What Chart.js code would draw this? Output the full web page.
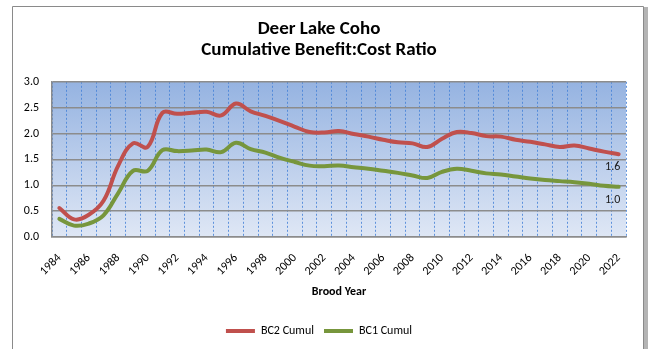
<!DOCTYPE html>
<html>
<head>
<meta charset="utf-8">
<title>Deer Lake Coho</title>
<script src="https://cdn.jsdelivr.net/npm/chart.js@4.4.1/dist/chart.umd.min.js"></script>
<style>
  html, body { margin: 0; padding: 0; background: #ffffff; }
  #chart-container { position: relative; width: 648px; height: 349px; }
</style>
</head>
<body>
<div id="chart-container">
  <canvas id="bc-chart" width="648" height="349"></canvas>
</div>
<script>
const years = [1984, 1985, 1986, 1987, 1988, 1989, 1990, 1991, 1992, 1993,
  1994, 1995, 1996, 1997, 1998, 1999, 2000, 2001, 2002, 2003,
  2004, 2005, 2006, 2007, 2008, 2009, 2010, 2011, 2012, 2013,
  2014, 2015, 2016, 2017, 2018, 2019, 2020, 2021, 2022];

const bc2Cumul = [0.56, 0.34, 0.43, 0.70, 1.38, 1.81, 1.74, 2.40, 2.38, 2.40,
  2.42, 2.35, 2.58, 2.43, 2.34, 2.24, 2.13, 2.03, 2.02, 2.05,
  1.99, 1.94, 1.88, 1.83, 1.81, 1.74, 1.90, 2.03, 2.01, 1.95,
  1.94, 1.88, 1.84, 1.79, 1.74, 1.77, 1.71, 1.65, 1.60];

const bc1Cumul = [0.35, 0.22, 0.26, 0.42, 0.85, 1.28, 1.28, 1.68, 1.66, 1.67,
  1.69, 1.64, 1.82, 1.70, 1.63, 1.53, 1.45, 1.38, 1.37, 1.38,
  1.35, 1.32, 1.28, 1.24, 1.19, 1.14, 1.26, 1.32, 1.28, 1.23,
  1.21, 1.17, 1.13, 1.10, 1.08, 1.06, 1.03, 0.99, 0.97];

const titleLines = ['Deer Lake Coho', 'Cumulative Benefit:Cost Ratio'];
const fontFamily = 'Carlito, Lato, sans-serif';

// outer frame plus the blue gradient behind the plot
const backgroundPlugin = {
  id: 'background',
  beforeDraw(chart) {
    const ctx = chart.ctx;
    const area = chart.chartArea;
    ctx.save();
    ctx.fillStyle = '#ffffff';
    ctx.fillRect(0, 0, chart.width, chart.height);
    ctx.fillStyle = '#b4b4b4';
    ctx.fillRect(644, 7, 4, chart.height);
    ctx.strokeStyle = '#8a8a8a';
    ctx.lineWidth = 1;
    ctx.beginPath();
    ctx.moveTo(12.5, chart.height + 2);
    ctx.lineTo(12.5, 6.5);
    ctx.lineTo(643.5, 6.5);
    ctx.lineTo(643.5, chart.height + 2);
    ctx.stroke();
    const grad = ctx.createLinearGradient(0, area.top, 0, area.bottom);
    grad.addColorStop(0, '#95b3e1');
    grad.addColorStop(1, '#dfe7f5');
    ctx.fillStyle = grad;
    ctx.fillRect(area.left, area.top, area.right - area.left, area.bottom - area.top);
    ctx.restore();
  }
};

// value of the last point written under each line
const endLabelPlugin = {
  id: 'endLabels',
  afterDatasetsDraw(chart) {
    const ctx = chart.ctx;
    ctx.save();
    ctx.font = '12px ' + fontFamily;
    ctx.fillStyle = '#1a1a1a';
    ctx.textAlign = 'center';
    ctx.textBaseline = 'top';
    chart.data.datasets.forEach((ds, i) => {
      const meta = chart.getDatasetMeta(i);
      const last = meta.data[meta.data.length - 1];
      const value = ds.data[ds.data.length - 1];
      ctx.fillText(value.toFixed(1), last.x - 6, last.y + 7);
    });
    ctx.restore();
  }
};

const ctx = document.getElementById('bc-chart').getContext('2d');
new Chart(ctx, {
  type: 'line',
  data: {
    labels: years,
    datasets: [
      {
        label: 'BC2 Cumul',
        data: bc2Cumul,
        borderColor: '#c0504d',
        backgroundColor: '#c0504d',
        borderWidth: 4,
        borderCapStyle: 'round',
        pointRadius: 0,
        pointStyle: 'line',
        tension: 0.4
      },
      {
        label: 'BC1 Cumul',
        data: bc1Cumul,
        borderColor: '#77963c',
        backgroundColor: '#77963c',
        borderWidth: 4,
        borderCapStyle: 'round',
        pointRadius: 0,
        pointStyle: 'line',
        tension: 0.4
      }
    ]
  },
  options: {
    responsive: false,
    animation: false,
    layout: {
      padding: { left: 12, right: 22, top: 0, bottom: 2 }
    },
    plugins: {
      title: {
        display: true,
        text: titleLines,
        color: '#000000',
        font: { family: fontFamily, size: 19, weight: 'bold', lineHeight: 1.1 },
        padding: { top: 19, bottom: 21 }
      },
      legend: {
        position: 'bottom',
        labels: {
          usePointStyle: true,
          pointStyleWidth: 29,
          color: '#000000',
          font: { family: fontFamily, size: 12 },
          padding: 10
        }
      },
      tooltip: { enabled: false }
    },
    scales: {
      x: {
        type: 'category',
        offset: true,
        afterFit(scale) { scale.height = 78; },
        grid: {
          offset: true,
          drawTicks: false,
          color: 'rgba(70, 130, 215, 0.85)',
          lineWidth: 1
        },
        // in v4 the dash set here applies to the vertical grid lines
        border: { color: '#8c8c8c', width: 1.5, dash: [2, 2] },
        ticks: {
          autoSkip: false,
          minRotation: 45,
          maxRotation: 45,
          padding: 14,
          color: '#000000',
          font: { family: fontFamily, size: 12 },
          callback: function (value, index) {
            return index % 2 === 0 ? this.getLabelForValue(value) : '';
          }
        },
        title: {
          display: true,
          text: 'Brood Year',
          color: '#000000',
          font: { family: fontFamily, size: 12, weight: 'bold' },
          padding: { top: 4, bottom: 16 }
        }
      },
      y: {
        min: 0,
        max: 3,
        afterFit(scale) { scale.width = 40; },
        grid: {
          drawTicks: false,
          color: '#8c8c8c',
          lineWidth: 1.5
        },
        border: { color: '#8c8c8c', width: 1.5 },
        ticks: {
          stepSize: 0.5,
          padding: 13,
          color: '#000000',
          font: { family: fontFamily, size: 12 },
          callback: (value) => value.toFixed(1)
        }
      }
    }
  },
  plugins: [backgroundPlugin, endLabelPlugin]
});
</script>
</body>
</html>
